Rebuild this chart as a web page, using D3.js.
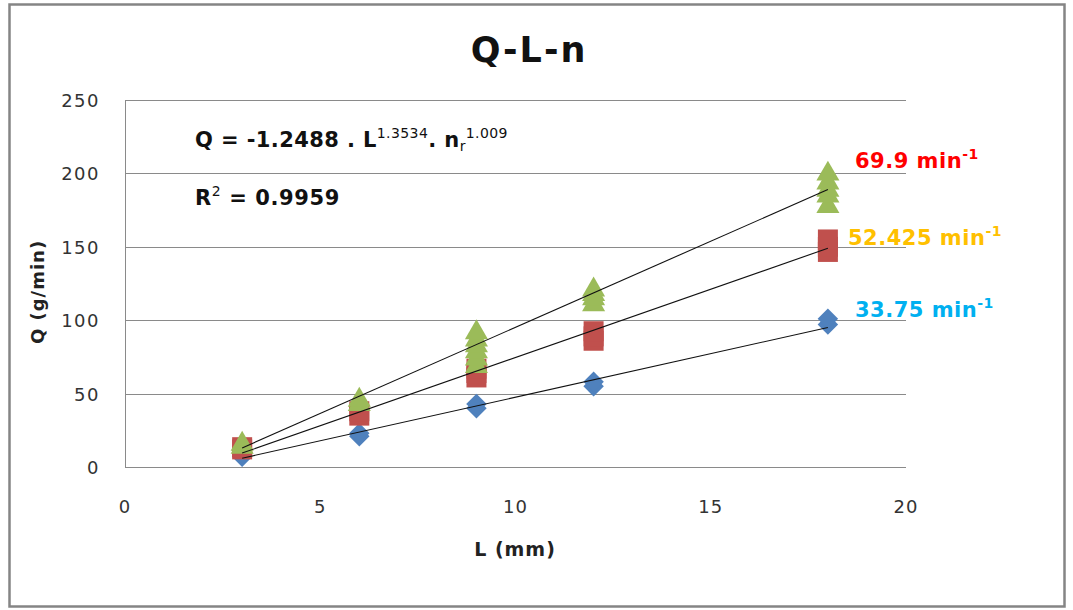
<!DOCTYPE html>
<html>
<head>
<meta charset="utf-8">
<script src="https://cdn.jsdelivr.net/npm/d3@7"></script>
<style>
  body { margin: 0; background: #fff; }
  text { font-family: "DejaVu Sans", Verdana, sans-serif; }
</style>
</head>
<body>
<div id="chart"></div>
<script>
// L values (mm) where the measurements were taken
const lengths = [3, 6, 9, 12, 18];

// measured Q (g/min), several repeats per length
const q33 = [[7, 9], [21, 23], [40, 43], [55, 58], [97, 101]];
const q52 = [[12, 13.5], [35, 38], [61, 64, 67], [86, 89, 92.5], [146.5, 150, 155]];
const q69 = [[15, 17], [44, 47], [70, 75, 80, 84, 88, 93], [112, 116, 119, 122], [179, 186, 190, 195, 201]];

// trend line values at L = 3 and L = 18
const trendL = [3, 18];
const trend33 = [6, 95];
const trend52 = [9.5, 149];
const trend69 = [13, 189];

const seriesNames = ["33.75", "52.425", "69.9"];
const xTicks = [0, 5, 10, 15, 20];
const yTicks = [0, 50, 100, 150, 200, 250];

const W = 1073, H = 610;
const margin = { top: 100, right: 167, bottom: 143, left: 125 };
const width = W - margin.left - margin.right,
  height = H - margin.top - margin.bottom;

const svg = d3.select("#chart")
  .append("svg")
  .attr("width", W)
  .attr("height", H);

// outer chart border
svg.append("rect")
  .attr("x", 9.5).attr("y", 4.5)
  .attr("width", 1055).attr("height", 602)
  .attr("fill", "none")
  .attr("stroke", "#858585")
  .attr("stroke-width", 2.5);

const g = svg.append("g")
  .attr("transform", `translate(${margin.left}, ${margin.top})`);

const x = d3.scaleLinear().domain([0, 20]).range([0, width]);
const y = d3.scaleLinear().domain([0, 250]).range([height, 0]);

// gridlines
g.append("g")
  .selectAll("line")
  .data(yTicks)
  .join("line")
  .attr("x1", 0).attr("x2", width)
  .attr("y1", d => Math.round(y(d)) + 0.5).attr("y2", d => Math.round(y(d)) + 0.5)
  .attr("stroke", "#8a8a8a");

g.append("line")
  .attr("x1", 0.5).attr("x2", 0.5)
  .attr("y1", 0).attr("y2", height)
  .attr("stroke", "#8a8a8a");

// tick labels
g.append("g")
  .selectAll("text")
  .data(yTicks)
  .join("text")
  .attr("x", -25)
  .attr("y", d => y(d) + 7)
  .attr("text-anchor", "end")
  .style("font-size", "18px")
  .style("letter-spacing", "1.5px")
  .style("fill", "#333")
  .text(d => d);

g.append("g")
  .selectAll("text")
  .data(xTicks)
  .join("text")
  .attr("x", d => x(d))
  .attr("y", height + 46)
  .attr("text-anchor", "middle")
  .style("font-size", "18px")
  .style("letter-spacing", "1px")
  .style("fill", "#333")
  .text(d => d);

// axis titles
svg.append("text")
  .attr("transform", "translate(44, 292) rotate(-90)")
  .attr("text-anchor", "middle")
  .style("font-size", "18px")
  .style("font-weight", "bold")
  .style("letter-spacing", "1px")
  .style("fill", "#222")
  .text("Q (g/min)");

svg.append("text")
  .attr("x", 515).attr("y", 556)
  .attr("text-anchor", "middle")
  .style("font-size", "19px")
  .style("font-weight", "bold")
  .style("letter-spacing", "1px")
  .style("fill", "#222")
  .text("L (mm)");

// title
svg.append("text")
  .attr("x", 529).attr("y", 62)
  .attr("text-anchor", "middle")
  .style("font-size", "35px")
  .style("font-weight", "bold")
  .style("letter-spacing", "2px")
  .style("fill", "#111")
  .text("Q-L-n");

// flatten measurements into points
function points(vals) {
  return vals.flatMap((arr, i) => arr.map(v => ({ L: lengths[i], Q: v })));
}

const series = [
  { name: seriesNames[0], vals: q33, trend: trend33, color: "#4F81BD", shape: d3.symbolSquare, size: 210, rot: 45, dy: 0 },
  { name: seriesNames[1], vals: q52, trend: trend52, color: "#C0504D", shape: d3.symbolSquare, size: 400, rot: 0, dy: 0 },
  { name: seriesNames[2], vals: q69, trend: trend69, color: "#9BBB59", shape: d3.symbolTriangle, size: 230, rot: 0, dy: 2 }
];

series.forEach(s => {
  g.append("g")
    .selectAll("path")
    .data(points(s.vals))
    .join("path")
    .attr("transform", d => `translate(${x(d.L)}, ${y(d.Q) + s.dy}) rotate(${s.rot})`)
    .attr("d", d3.symbol().type(s.shape).size(s.size))
    .attr("fill", s.color);
});

// trend lines drawn above markers
const line = d3.line().x(d => x(d[0])).y(d => y(d[1]));
series.forEach(s => {
  g.append("path")
    .datum(trendL.map((L, i) => [L, s.trend[i]]))
    .attr("d", line)
    .attr("fill", "none")
    .attr("stroke", "#111")
    .attr("stroke-width", 1.1);
});

// speed labels
const labelInfo = [
  { text: "33.75 min", color: "#00B0F0", x: 855, y: 317 },
  { text: "52.425 min", color: "#FFC000", x: 848, y: 245 },
  { text: "69.9 min", color: "#FF0000", x: 855, y: 168 }
];
labelInfo.forEach(l => {
  const t = svg.append("text")
    .attr("x", l.x).attr("y", l.y)
    .style("font-size", "21px")
    .style("font-weight", "bold")
    .style("letter-spacing", "0.5px")
    .style("fill", l.color);
  t.append("tspan").text(l.text);
  t.append("tspan").attr("dy", -9).style("font-size", "14px").text("-1");
});

// regression equation
const eq = svg.append("text")
  .attr("x", 195).attr("y", 147)
  .style("font-size", "21px")
  .style("font-weight", "bold")
  .style("letter-spacing", "0.4px")
  .style("fill", "#111");
eq.append("tspan").text("Q = -1.2488 . L");
eq.append("tspan").attr("dy", -9).style("font-size", "14px").style("font-weight", "normal").text("1.3534");
eq.append("tspan").attr("dy", 9).text(".  n");
eq.append("tspan").attr("dy", 4).style("font-size", "14px").style("font-weight", "normal").text("r");
eq.append("tspan").attr("dy", -13).style("font-size", "14px").style("font-weight", "normal").text("1.009");

const r2 = svg.append("text")
  .attr("x", 195).attr("y", 205)
  .style("font-size", "21px")
  .style("font-weight", "bold")
  .style("letter-spacing", "0.6px")
  .style("fill", "#111");
r2.append("tspan").text("R");
r2.append("tspan").attr("dy", -9).style("font-size", "14px").style("font-weight", "normal").text("2");
r2.append("tspan").attr("dy", 9).text(" =  0.9959");
</script>
</body>
</html>
